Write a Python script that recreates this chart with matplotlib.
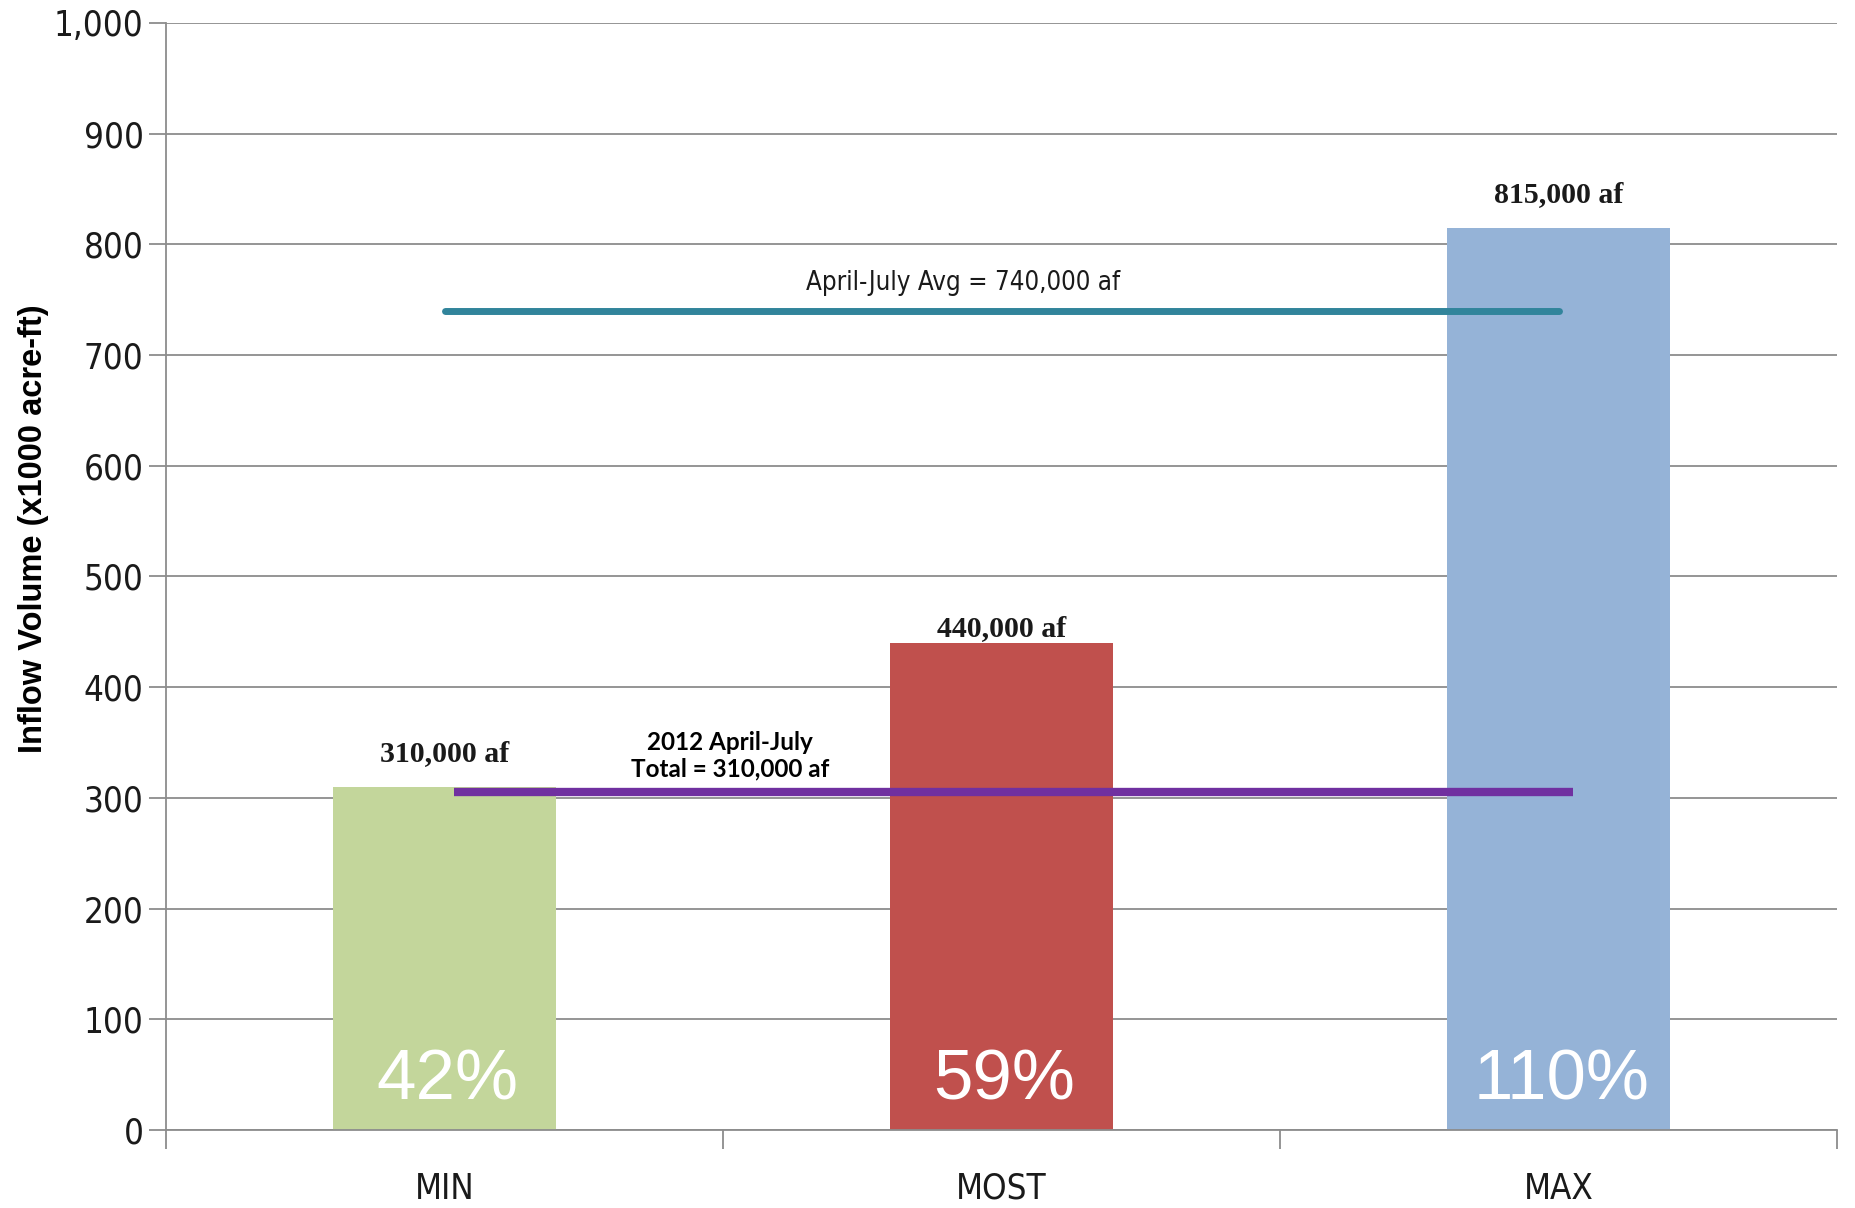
import numpy as np
import matplotlib.pyplot as plt
from matplotlib.ticker import FuncFormatter

categories = ['MIN', 'MOST', 'MAX']
volumes = [310, 440, 815]            # x1000 acre-ft
value_labels = ['310,000 af', '440,000 af', '815,000 af']
pct_labels = ['42%', '59%', '110%']
bar_colors = ['#C3D69B', '#C0504D', '#95B3D7']
label_offsets = [24, 10, 24]         # points above bar top

avg_value = 740
avg_label = 'April-July Avg = 740,000 af'
total_value = 305
total_label = '2012 April-July\nTotal = 310,000 af'

narrow = ['DejaVu Sans']

fig = plt.figure(figsize=(18.56, 12.08), dpi=100)
ax = fig.add_axes([0.0894, 0.0646, 0.9006, 0.9164])

x = np.arange(len(categories))
ax.bar(x, volumes, width=0.4, color=bar_colors, zorder=2)

ax.set_xlim(-0.5, 2.5)
ax.set_ylim(0, 1000)
ax.set_yticks(np.arange(0, 1001, 100))
ax.yaxis.set_major_formatter(FuncFormatter(lambda v, p: f'{int(v):,}'))
ax.grid(axis='y', color='#8c8c8c', linewidth=1.3, zorder=0)
ax.set_axisbelow(True)

for s in ['top', 'right']:
    ax.spines[s].set_visible(False)
for s in ['left', 'bottom']:
    ax.spines[s].set_color('#8c8c8c')
    ax.spines[s].set_linewidth(1.3)

ax.set_xticks(x)
ax.set_xticklabels(categories)
ax.set_xticks(np.arange(-0.5, 2.6, 1), minor=True)
ax.tick_params(axis='x', which='major', length=0, pad=30)
ax.tick_params(axis='x', which='minor', length=14, width=1.3, color='#8c8c8c')
ax.tick_params(axis='y', length=12, width=1.3, color='#8c8c8c', pad=4)
for t in ax.get_xticklabels() + ax.get_yticklabels():
    t.set_family(narrow)
    t.set_stretch('condensed')
    t.set_fontsize(25)
    t.set_color('#1a1a1a')

ax.set_ylabel('Inflow Volume (x1000 acre-ft)', fontsize=23.5, fontweight='bold',
              family=['Liberation Sans', 'DejaVu Sans'], labelpad=10)
ax.yaxis.set_label_coords(-0.07, 0.543)

# bar value labels and percentages
for i, v in enumerate(volumes):
    ax.annotate(value_labels[i], (x[i], v), xytext=(0, label_offsets[i]),
                textcoords='offset points', ha='center', va='center',
                fontsize=21.5, fontweight='bold', color='#1a1a1a',
                family=['Liberation Serif', 'DejaVu Serif'])
    ax.text(x[i] + 0.005, 44, pct_labels[i], ha='center', va='center',
            fontsize=51, color='white', family=['Liberation Sans', 'DejaVu Sans'], zorder=3)

# average line
ax.plot([x[0], x[2]], [avg_value, avg_value], color='#31849B', linewidth=5,
        solid_capstyle='round', zorder=3)
ax.text(0.93, 765, avg_label, ha='center', va='center', fontsize=18.5,
        family=narrow, stretch='condensed', color='#1a1a1a')

# 2012 total line
ax.plot([x[0] + 0.017, x[2] + 0.025], [total_value, total_value], color='#7030A0',
        linewidth=6, solid_capstyle='butt', zorder=3)
ax.text(0.513, 338, total_label, ha='center', va='center', fontsize=17.5,
        fontweight='bold', family=['Lato', 'DejaVu Sans'], color='black',
        linespacing=1.2)

fig.savefig('out.png', dpi=100)
